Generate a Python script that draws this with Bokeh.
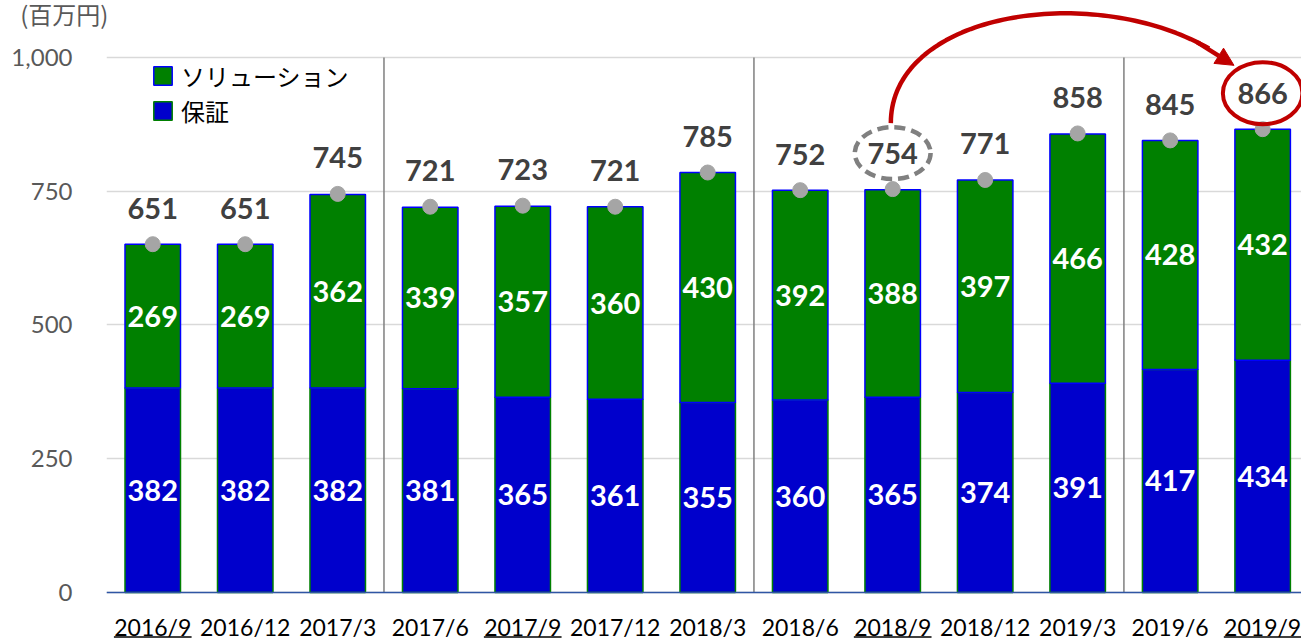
import numpy as np
from bokeh.plotting import figure
from bokeh.models import (Range1d, FixedTicker, NumeralTickFormatter, Span, Legend, LegendItem,
                          Arrow, NormalHead, ColumnDataSource)
from bokeh.core.properties import value
from bokeh.embed import file_html
from bokeh.resources import INLINE

# ---------------- data ----------------
categories = ["2016/9", "2016/12", "2017/3", "2017/6", "2017/9", "2017/12", "2018/3",
              "2018/6", "2018/9", "2018/12", "2019/3", "2019/6", "2019/9"]
guarantee = [382, 382, 382, 381, 365, 361, 355, 360, 365, 374, 391, 417, 434]   # 保証
solution = [269, 269, 362, 339, 357, 360, 430, 392, 388, 397, 466, 428, 432]    # ソリューション
totals = [651, 651, 745, 721, 723, 721, 785, 752, 754, 771, 858, 845, 866]
underlined = ["2016/9", "2017/9", "2018/9", "2019/9"]
separators_after = ["2017/3", "2018/3", "2019/3"]
highlight_from = "2018/9"
highlight_to = "2019/9"
y_ticks = [0, 250, 500, 750, 1000]
unit_label = "(百万円)"

# ---------------- style ----------------
BLUE = "#0000CC"
GREEN = "#008000"
NUMFONT = "Lato"
JPFONT = "Noto Sans CJK JP"

x = list(range(len(categories)))
blue_top = guarantee
green_top = [g + s for g, s in zip(guarantee, solution)]

p = figure(width=1301, height=641, output_backend="svg", toolbar_location=None,
           x_range=Range1d(-0.5, 12.42), y_range=Range1d(-91.6, 1106.5),
           min_border_left=106, min_border_right=0, min_border_top=0, min_border_bottom=0)
p.xaxis.visible = False
p.outline_line_color = None
p.xgrid.grid_line_color = None
p.ygrid.grid_line_color = "#D9D9D9"
p.ygrid.grid_line_width = 1.5

yax = p.yaxis[0]
yax.ticker = FixedTicker(ticks=y_ticks)
yax.formatter = NumeralTickFormatter(format="0,0")
yax.axis_line_color = None
yax.major_tick_line_color = None
yax.minor_tick_line_color = None
yax.major_tick_out = 0
yax.major_tick_in = 0
yax.major_label_standoff = 34
yax.major_label_text_font = NUMFONT
yax.major_label_text_font_size = "24px"
yax.major_label_text_color = "#595959"
yax.axis_label = "\n" + unit_label
yax.axis_label_orientation = "horizontal"
yax.axis_label_align = "end"
yax.axis_label_standoff = -100
yax.axis_label_text_font = JPFONT
yax.axis_label_text_font_size = "24px"
yax.axis_label_text_font_style = "normal"
yax.axis_label_text_color = "#595959"
yax.axis_label_text_line_height = 0.75

src = ColumnDataSource(dict(x=x, blue_top=blue_top, green_top=green_top, totals=totals,
                            g_mid=[b / 2 for b in blue_top],
                            s_mid=[b + s / 2 for b, s in zip(blue_top, solution)],
                            g_lbl=[str(v) for v in guarantee],
                            s_lbl=[str(v) for v in solution],
                            t_lbl=[str(v) for v in totals],
                            cat=categories))

# separators
sep_x = [categories.index(c) + 0.5 for c in separators_after]
p.segment(x0=sep_x, y0=[0] * len(sep_x), x1=sep_x, y1=[1000] * len(sep_x),
          line_color="#7F7F7F", line_width=1.5)

r_blue = p.vbar(x="x", bottom=0, top="blue_top", width=0.6, source=src,
                fill_color=BLUE, line_color=GREEN, line_width=1.5)
r_green = p.vbar(x="x", bottom="blue_top", top="green_top", width=0.6, source=src,
                 fill_color=GREEN, line_color="#0000FF", line_width=1.5)

p.add_layout(Span(location=0, dimension="width", line_color="#2F55A4", line_width=1.5))

# segment labels
for col_y, col_t in (("g_mid", "g_lbl"), ("s_mid", "s_lbl")):
    p.text(x="x", y=col_y, text=col_t, source=src, text_align="center", text_baseline="middle",
           text_color="white", text_font=value(NUMFONT), text_font_style="bold",
           text_font_size="29px")

# totals
p.scatter(x="x", y="totals", source=src, size=15, color="#A5A5A5")
p.text(x="x", y="totals", text="t_lbl", source=src, y_offset=-36, text_align="center",
       text_baseline="middle", text_color="#404040", text_font=value(NUMFONT),
       text_font_style="bold", text_font_size="29px")

# category labels
p.text(x="x", y=0, text="cat", source=src, y_offset=35, text_align="center", text_baseline="middle",
       text_color="#000000", text_font=value(NUMFONT), text_font_size="23px")
ux = [categories.index(c) for c in underlined]
p.segment(x0=[i - 0.42 for i in ux], y0=[-83] * len(ux), x1=[i + 0.42 for i in ux], y1=[-83] * len(ux),
          line_color="#000000", line_width=1.5)

# highlight ellipses
lbl_off = 36 / 0.535
i0 = categories.index(highlight_from)
i1 = categories.index(highlight_to)
c0 = totals[i0] + lbl_off
c1 = totals[i1] + lbl_off
p.ellipse(x=[i0], y=[c0], width=0.82, height=97, fill_color=None, line_color="#808080",
          line_width=4.5, line_dash="11 6")
p.ellipse(x=[i1], y=[c1], width=0.86, height=116, fill_color=None, line_color="#C00000",
          line_width=4)

# curved arrow
P0 = np.array([i0 - 0.02, c0 + 56])
P3 = np.array([i1 - 0.31, c1 + 52])
C0 = np.array([P0[0], 1100])
C1 = np.array([P3[0] - 1.2, 1150])


def bez(tv):
    tv = np.asarray(tv)[..., None]
    return (1 - tv) ** 3 * P0 + 3 * (1 - tv) ** 2 * tv * C0 + 3 * (1 - tv) * tv ** 2 * C1 + tv ** 3 * P3


pts = bez(np.linspace(0, 0.93, 80))
p.line(pts[:, 0], pts[:, 1], line_color="#C00000", line_width=4.5)
Ps = bez(0.9)
p.add_layout(Arrow(end=NormalHead(size=18, fill_color="#C00000", line_color="#C00000"),
                   x_start=float(Ps[0]), y_start=float(Ps[1]), x_end=float(P3[0]), y_end=float(P3[1]),
                   line_color="#C00000", line_width=4.5))

# legend
legend = Legend(items=[LegendItem(label="ソリューション", renderers=[r_green]),
                       LegendItem(label="保証", renderers=[r_blue])],
                location=(45, 513), padding=0, margin=0, spacing=0,
                glyph_width=23, glyph_height=23, label_height=23, label_standoff=7,
                label_text_font=JPFONT, label_text_font_size="24px", label_text_color="#000000",
                label_text_baseline="middle", label_text_line_height=1.0,
                border_line_alpha=0, background_fill_alpha=0)
p.add_layout(legend)

open("out.html", "w").write(file_html(p, INLINE))
